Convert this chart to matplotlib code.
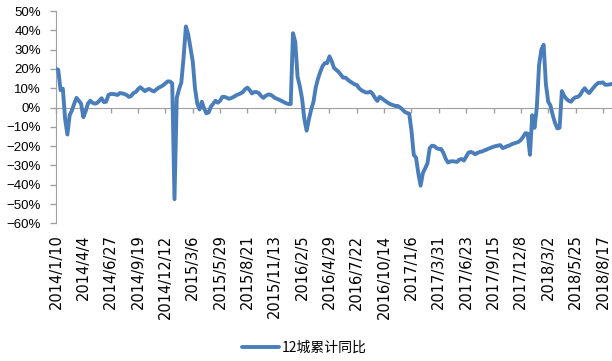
import numpy as np
import matplotlib
matplotlib.use("Agg")
import matplotlib.pyplot as plt

plt.rcParams['font.family'] = ['Liberation Sans', 'DejaVu Sans']

# weekly data starting 2014/1/10, labels every 12 weeks
tick_labels = ['2014/1/10', '2014/4/4', '2014/6/27', '2014/9/19', '2014/12/12',
               '2015/3/6', '2015/5/29', '2015/8/21', '2015/11/13', '2016/2/5',
               '2016/4/29', '2016/7/22', '2016/10/14', '2017/1/6', '2017/3/31',
               '2017/6/23', '2017/9/15', '2017/12/8', '2018/3/2', '2018/5/25',
               '2018/8/17']
tick_step = 12

series_name = '12城累计同比'
values = [
    20.0, 19.5, 9.0, 9.8, -6.0, -14.0, -4.0, -1.5, 2.0, 5.0,
    3.5, 2.0, -5.0, -2.0, 2.0, 3.5, 2.5, 2.0, 2.3, 3.5,
    4.8, 2.8, 3.0, 6.5, 7.0, 7.0, 6.8, 6.5, 7.5, 7.3,
    7.0, 6.5, 5.5, 6.0, 7.5, 8.0, 9.5, 10.5, 9.5, 8.5,
    9.3, 9.6, 8.8, 8.3, 9.3, 10.2, 10.8, 11.5, 12.5, 13.5,
    13.5, 12.5, -47.5, 5.0, 9.5, 13.0, 26.0, 42.0, 38.0, 31.0,
    24.0, 10.0, 2.0, -1.0, 3.0, -0.5, -3.0, -2.5, 0.5, 2.0,
    3.5, 2.5, 3.5, 5.5, 5.5, 5.0, 4.5, 5.0, 5.5, 6.3,
    6.8, 7.3, 8.0, 9.5, 10.3, 9.0, 7.3, 8.0, 8.0, 7.5,
    6.0, 5.0, 6.0, 6.7, 6.7, 6.0, 5.0, 4.5, 4.0, 3.4,
    2.8, 2.2, 1.8, 1.8, 38.5, 34.0, 16.0, 11.0, 4.5, -6.0,
    -12.0, -6.0, -1.0, 3.0, 10.5, 15.0, 18.5, 21.5, 23.0, 23.0,
    26.5, 24.0, 20.5, 19.5, 18.5, 17.0, 15.5, 15.5, 14.5, 13.5,
    12.8, 12.0, 11.7, 10.0, 9.0, 8.3, 7.8, 7.8, 8.2, 7.0,
    5.0, 3.4, 5.5, 4.8, 3.8, 3.0, 2.2, 1.6, 1.2, 0.8,
    0.8, 0.0, -1.0, -2.2, -2.8, -3.2, -12.0, -24.5, -26.0, -34.0,
    -40.5, -34.0, -31.5, -29.0, -21.0, -19.8, -20.0, -21.0, -21.5, -21.5,
    -23.5, -26.5, -28.5, -28.0, -27.8, -28.0, -28.2, -27.0, -26.7, -27.5,
    -25.5, -23.4, -23.0, -23.5, -24.2, -23.5, -23.0, -22.8, -22.2, -21.8,
    -21.2, -20.8, -20.3, -20.0, -19.7, -19.5, -21.0, -20.6, -20.0, -19.7,
    -19.0, -18.6, -18.2, -17.8, -16.8, -15.2, -13.3, -13.5, -24.5, -4.0,
    -10.5, 0.0, 22.0, 30.0, 32.5, 12.0, 3.0, 1.0, -4.0, -8.0,
    -10.8, -10.5, 8.5, 6.0, 4.5, 3.5, 3.0, 4.5, 5.3, 5.5,
    6.5, 8.5, 10.0, 8.5, 7.5, 9.0, 10.5, 11.8, 12.8, 12.8,
    13.0, 11.8, 11.8, 12.0, 12.2,
]
y_ticks = [-60, -50, -40, -30, -20, -10, 0, 10, 20, 30, 40, 50]

fig = plt.figure(figsize=(6.12, 3.61), dpi=100)
ax = fig.add_axes([0.0915, 0.3814, 0.9085, 0.5881])

x = np.arange(len(values))
ax.plot(x, values, color='#4A7EBB', lw=2.8, solid_joinstyle='round',
        solid_capstyle='round', label=series_name, zorder=3)

ax.set_xlim(0, len(values) - 1)
ax.set_ylim(-60, 50)

# y axis
ax.set_yticks(y_ticks)
ax.set_yticklabels([f'{v}%'.replace('-', '\u2212') for v in y_ticks])
ax.tick_params(axis='y', direction='out', length=4.3, width=1, color='#A0A0A0',
               pad=6.5, labelsize=9.5, labelcolor='black')

# x axis line sits at zero, labels at the bottom
for s in ['top', 'right']:
    ax.spines[s].set_visible(False)
ax.spines['left'].set_color('#A0A0A0')
ax.spines['bottom'].set_color('#A0A0A0')
ax.spines['bottom'].set_position(('data', 0))
ax.spines['bottom'].set_zorder(2)

tick_pos = [i * tick_step for i in range(len(tick_labels))]
ax.set_xticks(tick_pos)
ax.tick_params(axis='x', direction='out', length=3.6, width=1, color='#A0A0A0',
               labelbottom=False)

sec = ax.secondary_xaxis('bottom')
sec.set_xticks(tick_pos)
sec.set_xticklabels(tick_labels, fontfamily='DejaVu Sans')
sec.tick_params(axis='x', length=0, pad=8, labelrotation=90, labelsize=10.5)
sec.spines['bottom'].set_visible(False)

fig.legend(loc='center', bbox_to_anchor=(0.497, 0.036), frameon=False,
           handlelength=2.7, handletextpad=0.2,
           prop={'family': ['Noto Sans CJK SC', 'DejaVu Sans'], 'size': 10})

fig.savefig('out.png', dpi=100)
